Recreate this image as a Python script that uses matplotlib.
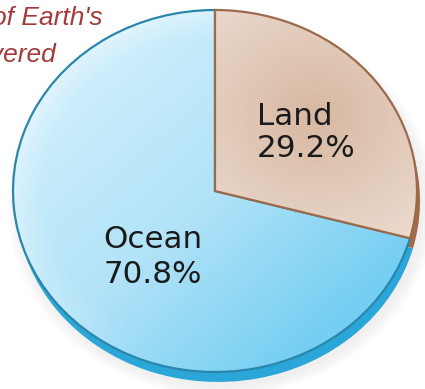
import numpy as np
import matplotlib
matplotlib.use("Agg")
import matplotlib.pyplot as plt
from matplotlib.patches import PathPatch
from matplotlib.colors import to_rgb

# ---- data ----
categories = ["Land", "Ocean"]
values = [29.2, 70.8]
title_lines = ["of Earth's", "covered"]

face_colors = {"Land": "#dcc0ab", "Ocean": "#b2e3f8"}
rim_colors = {"Land": "#a26a47", "Ocean": "#2aa6d9"}
edge_colors = {"Land": "#9c6a4a", "Ocean": "#2a87ab"}

W, H = 425, 389
fig = plt.figure(figsize=(W / 100, H / 100), dpi=100)
ax = fig.add_axes([0, 0, 1, 1])

# pixel geometry of the (elliptical) pie
cx, cy, rx, ry = 215, 191, 202, 181
def px2data(px, py):
    return (px - cx) / rx, (cy - py) / ry

# soft shadow
for k in range(6):
    ax.pie(values, radius=1.0 + 0.012 * k, center=(0.03, -0.075), startangle=90,
           counterclock=False, colors=["#bdbdbd"] * len(values),
           wedgeprops=dict(alpha=0.035, linewidth=0), frame=True)

# rim (3D thickness)
rim_w, _ = ax.pie(values, radius=1.0, center=(0.015, -0.055), startangle=90,
                  counterclock=False, colors=[rim_colors[c] for c in categories],
                  wedgeprops=dict(linewidth=0), frame=True)

# face
wedges, _ = ax.pie(values, radius=1.0, center=(0, 0), startangle=90,
                   counterclock=False, colors=[face_colors[c] for c in categories],
                   wedgeprops=dict(linewidth=0), frame=True)

# gradients clipped to wedges
n = 400
xs = np.linspace(-1, 1, n)
ys = np.linspace(1, -1, n)
X, Y = np.meshgrid(xs, ys)
R = np.sqrt(X ** 2 + Y ** 2)

def mix(c1, c2, t):
    c1 = np.array(to_rgb(c1)); c2 = np.array(to_rgb(c2))
    return c1[None, None, :] * (1 - t[..., None]) + c2[None, None, :] * t[..., None]

# ocean
t = np.clip((X - Y) / 2.6 + 0.5, 0, 1)
ocean = np.where(t[..., None] < 0.5,
                 mix("#cdeefc", "#b2e3f8", np.clip(t * 2, 0, 1)),
                 mix("#b2e3f8", "#76cff2", np.clip(t * 2 - 1, 0, 1)))
edge_w = np.clip((R - 0.85) / 0.15, 0, 1) * np.clip(1 - t * 1.4, 0, 1)
ocean = ocean * (1 - edge_w[..., None] * 0.55) + np.array(to_rgb("#eef9fe")) * edge_w[..., None] * 0.55

# land
d = np.sqrt((X - 0.5) ** 2 + (Y - 0.42) ** 2)
land = mix("#d7b8a2", "#ecdcd0", np.clip(d / 0.85, 0, 1))

grads = {"Land": land, "Ocean": ocean}
order_z = {"Land": 6, "Ocean": 4}
for w, c in zip(wedges, categories):
    w.set_zorder(order_z[c] - 1)
    im = ax.imshow(grads[c], extent=(-1, 1, -1, 1), aspect="auto",
                   zorder=order_z[c], interpolation="bilinear")
    im.set_clip_path(w)
    ax.add_patch(PathPatch(w.get_path(), transform=ax.transData, fc="none",
                           ec=edge_colors[c], lw=1.6, zorder=order_z[c] + 0.5))

ax.set_aspect("auto")
x0, _ = px2data(0, 0); x1, _ = px2data(W, 0)
_, y0 = px2data(0, H); _, y1 = px2data(0, 0)
ax.set_xlim(x0, x1)
ax.set_ylim(y0, y1)
ax.axis("off")

def fx(px): return px / W
def fy(py): return 1 - py / H

# labels
label_pos = {"Land": (257, 125, 157), "Ocean": (103, 248, 283)}
for c, v in zip(categories, values):
    lx, b1, b2 = label_pos[c]
    ax.text(fx(lx), fy(b1), c, transform=ax.transAxes, ha="left", va="baseline",
            fontsize=22.3, family="DejaVu Sans", color="#1a1a1a", zorder=10)
    ax.text(fx(lx), fy(b2), f"{v}%", transform=ax.transAxes, ha="left", va="baseline",
            fontsize=22.3, family="DejaVu Sans", color="#1a1a1a", zorder=10)

# cut-off title (cropped in the reference as well)
ax.text(fx(103), fy(25), title_lines[0], transform=ax.transAxes, ha="right",
        va="baseline", fontsize=19, style="italic", family="Liberation Sans",
        color="#a63a3a", zorder=10)
ax.text(fx(56), fy(62), title_lines[1], transform=ax.transAxes, ha="right",
        va="baseline", fontsize=19, style="italic", family="Liberation Sans",
        color="#a63a3a", zorder=10)

fig.savefig("out.png", dpi=100)
